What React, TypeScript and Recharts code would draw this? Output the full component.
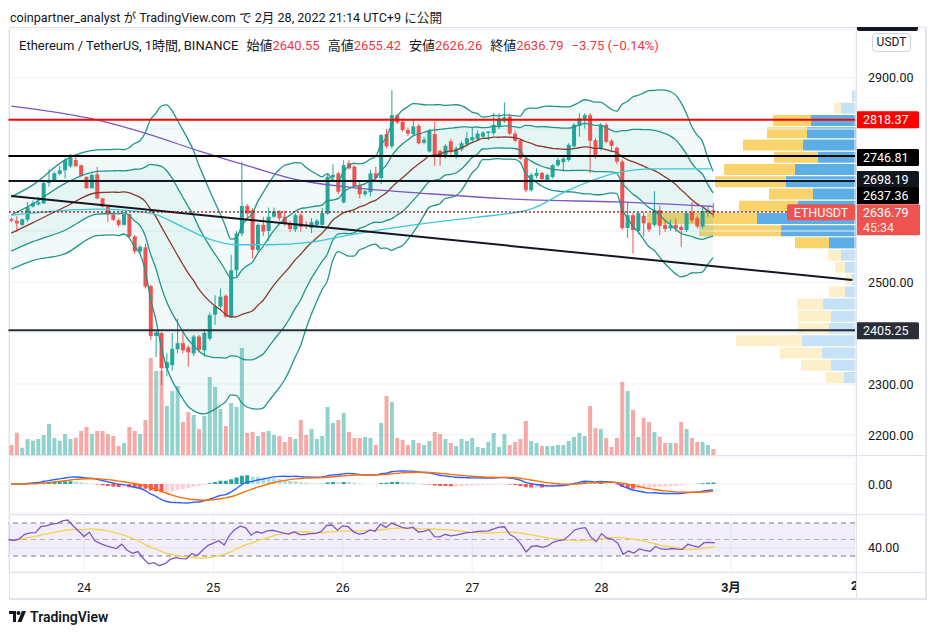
import React from "react";
import {
  ComposedChart,
  BarChart,
  Bar,
  Line,
  Area,
  XAxis,
  YAxis,
  CartesianGrid,
  ReferenceLine,
  ReferenceArea,
  Cell,
} from "recharts";

const FONT = "Roboto, 'Noto Sans CJK JP', sans-serif";
const UP = "#26a69a";
const DOWN = "#ef5350";
const GRID = "#eef1f6";
const BORDER = "#e0e3eb";
const INK = "#131722";

// hourly candles 23 Feb 11:00 .. 28 Feb 21:00 : open, high, low, close
const candles: number[][] = [
  [2623, 2626, 2618, 2620], [2620, 2629, 2598, 2615], [2612, 2624, 2610, 2623], [2622, 2657, 2618, 2647],
  [2648, 2660, 2646, 2655], [2652, 2667, 2650, 2656], [2654, 2697, 2653, 2694], [2694, 2721, 2687, 2700],
  [2699, 2716, 2697, 2713], [2712, 2728, 2709, 2719], [2719, 2743, 2703, 2739], [2727, 2751, 2724, 2747],
  [2739, 2751, 2726, 2727], [2729, 2730, 2707, 2708], [2706, 2707, 2683, 2684], [2684, 2713, 2683, 2710],
  [2711, 2726, 2662, 2664], [2664, 2665, 2646, 2648], [2647, 2650, 2618, 2633], [2632, 2634, 2620, 2622],
  [2621, 2625, 2608, 2612], [2612, 2634, 2611, 2633], [2633, 2634, 2587, 2589], [2589, 2592, 2555, 2560],
  [2560, 2572, 2556, 2569], [2568, 2575, 2487, 2491], [2492, 2494, 2386, 2394], [2394, 2404, 2353, 2401],
  [2400, 2402, 2298, 2331], [2331, 2360, 2315, 2343], [2337, 2400, 2326, 2369], [2368, 2428, 2360, 2380],
  [2380, 2406, 2360, 2366], [2372, 2376, 2334, 2362], [2360, 2396, 2355, 2393], [2393, 2396, 2362, 2367],
  [2366, 2407, 2354, 2400], [2389, 2440, 2385, 2435], [2436, 2474, 2416, 2452], [2452, 2487, 2448, 2471],
  [2473, 2476, 2430, 2432], [2432, 2553, 2430, 2523], [2523, 2600, 2510, 2595], [2595, 2736, 2590, 2649],
  [2649, 2653, 2622, 2634], [2641, 2645, 2546, 2563], [2563, 2615, 2558, 2612], [2612, 2628, 2590, 2599],
  [2600, 2646, 2580, 2628], [2628, 2646, 2626, 2638], [2638, 2641, 2620, 2625], [2628, 2640, 2610, 2614],
  [2614, 2620, 2598, 2604], [2603, 2635, 2598, 2631], [2631, 2636, 2599, 2608], [2612, 2619, 2604, 2609],
  [2606, 2625, 2596, 2617], [2612, 2624, 2606, 2620], [2612, 2645, 2610, 2635], [2634, 2713, 2632, 2706],
  [2705, 2731, 2700, 2710], [2713, 2716, 2672, 2677], [2656, 2739, 2654, 2729], [2733, 2739, 2720, 2723],
  [2726, 2729, 2685, 2688], [2690, 2697, 2664, 2672], [2672, 2681, 2668, 2678], [2676, 2720, 2668, 2713],
  [2713, 2726, 2700, 2704], [2704, 2790, 2692, 2788], [2790, 2800, 2762, 2766], [2766, 2876, 2761, 2827],
  [2827, 2830, 2810, 2813], [2814, 2820, 2794, 2798], [2798, 2803, 2786, 2791], [2790, 2819, 2787, 2805],
  [2806, 2810, 2770, 2772], [2773, 2785, 2770, 2779], [2756, 2800, 2754, 2796], [2790, 2814, 2728, 2746],
  [2757, 2760, 2728, 2745], [2746, 2770, 2742, 2767], [2776, 2780, 2750, 2756], [2745, 2766, 2742, 2762],
  [2760, 2776, 2756, 2772], [2770, 2795, 2766, 2782], [2778, 2804, 2775, 2784], [2780, 2797, 2778, 2791],
  [2785, 2796, 2783, 2793], [2792, 2796, 2778, 2795], [2792, 2831, 2788, 2808], [2805, 2831, 2800, 2821],
  [2815, 2852, 2812, 2823], [2824, 2830, 2788, 2791], [2791, 2797, 2774, 2777], [2778, 2780, 2740, 2742],
  [2742, 2745, 2676, 2680], [2680, 2714, 2677, 2710], [2708, 2723, 2703, 2714], [2714, 2716, 2700, 2702],
  [2698, 2713, 2696, 2710], [2706, 2731, 2703, 2729], [2729, 2744, 2726, 2739], [2735, 2748, 2718, 2742],
  [2739, 2772, 2736, 2769], [2766, 2812, 2763, 2808], [2806, 2831, 2785, 2821], [2818, 2831, 2801, 2827],
  [2827, 2831, 2713, 2777], [2778, 2782, 2742, 2747], [2762, 2812, 2758, 2808], [2808, 2812, 2772, 2775],
  [2777, 2780, 2755, 2767], [2763, 2766, 2731, 2736], [2736, 2740, 2602, 2606], [2606, 2657, 2586, 2631],
  [2631, 2635, 2556, 2602], [2600, 2638, 2595, 2635], [2630, 2637, 2589, 2615], [2615, 2618, 2598, 2603],
  [2612, 2678, 2608, 2641], [2641, 2650, 2592, 2610], [2612, 2622, 2598, 2604], [2605, 2622, 2600, 2611],
  [2612, 2625, 2598, 2605], [2608, 2612, 2569, 2602], [2602, 2640, 2598, 2635], [2637, 2657, 2616, 2621],
  [2625, 2630, 2605, 2609], [2609, 2645, 2605, 2639], [2639, 2648, 2628, 2640.55], [2640.55, 2655.42, 2626.26, 2636.79],
];

const volumes = [
  30, 67, 22, 48, 43, 48, 60, 93, 51, 43, 63, 48, 52, 72, 84, 63, 72, 72, 63, 57,
  27, 36, 84, 72, 63, 105, 291, 252, 252, 147, 192, 207, 99, 129, 120, 78, 117, 234, 204, 138,
  87, 156, 144, 321, 66, 69, 57, 69, 72, 60, 57, 39, 54, 48, 105, 60, 78, 48, 57, 144,
  96, 105, 126, 69, 51, 51, 54, 51, 30, 96, 177, 159, 51, 45, 30, 45, 36, 30, 42, 69,
  63, 48, 36, 27, 48, 42, 51, 24, 21, 39, 66, 24, 63, 30, 39, 48, 102, 42, 36, 27,
  27, 27, 30, 30, 42, 54, 66, 57, 147, 81, 78, 51, 24, 51, 219, 192, 135, 54, 111, 99,
  69, 55, 36, 36, 36, 99, 78, 51, 39, 39, 30, 18,
];

// moving averages: [candle index, price]
const purpleMa = [[0, 2845], [16, 2818], [25, 2792], [35, 2757], [45, 2725], [54, 2699], [63, 2686], [78, 2673], [97, 2661], [113, 2657], [131, 2648]];
const cyanMa = [[0, 2631], [16, 2643], [26, 2635], [32, 2608], [37, 2584], [42, 2573], [48, 2573], [56, 2578], [63, 2592], [78, 2616], [87, 2627], [97, 2643], [104, 2680], [113, 2714], [120, 2722], [131, 2722]];

// Bollinger basis / 2σ width before 20 closes are available
const bbEarlyIdx = [0, 4, 10, 16];
const bbEarlyMid = [2596, 2616, 2647, 2675];
const bbEarlyWidth = [71, 74, 92, 84];

const dayTicks = [14, 38, 62, 86, 110, 134];
const dayLabels = ["24", "25", "26", "27", "28", "3月"];
const priceTicks = [2200, 2300, 2400, 2500, 2600, 2700, 2800, 2900];
const priceLabelShown = [2200, 2300, 2500, 2900];

const levels = [
  { price: 2818.37, color: "#ff0000", width: 2, dash: undefined as string | undefined, shift: 0 },
  { price: 2746.81, color: "#000000", width: 2, dash: undefined, shift: 1.5 },
  { price: 2698.19, color: INK, width: 2, dash: undefined, shift: -1.5 },
  { price: 2637.36, color: "#000000", width: 1, dash: "2 2", shift: -16.5 },
  { price: 2405.25, color: "#2a2e39", width: 2, dash: undefined, shift: 0.5 },
];
const lastPrice = 2636.79;
const trendLine = [{ x: 0, y: 2668.4 }, { x: 157, y: 2503.9 }];

// visible-range volume profile, rows from the top
const vpTopPrice = 2876.5;
const vpRowStep = 24.0;
const vpUp = [4, 15, 45, 49, 53, 38, 61, 70, 43, 58, 99, 75, 27, 15, 11, 4, 11, 33, 25, 27, 54, 34, 25, 12];
const vpDown = [0, 7, 38, 40, 60, 44, 71, 71, 44, 59, 110, 82, 34, 13, 10, 6, 16, 26, 33, 31, 66, 42, 30, 18];
const vpValueArea = [2, 12];

const SLOTS = 158;
const PRICE_DOMAIN = [2160.8, 2994.1];
const MAIN_TOP = 27;
const MAIN_H = 428;
const MAIN_MARGIN_TOP = 3;
const RSI_SEED = 8;

const closes = candles.map((c) => c[3]);

const bb = closes.map((_, i) => {
  if (i >= 19) {
    const win = closes.slice(i - 19, i + 1);
    const mean = win.reduce((a, b) => a + b, 0) / 20;
    const sd = Math.sqrt(win.reduce((a, b) => a + (b - mean) ** 2, 0) / 20);
    return { mid: mean, w: 2 * sd };
  }
  const k = bbEarlyIdx.indexOf(i);
  return k >= 0 ? { mid: bbEarlyMid[k], w: bbEarlyWidth[k] } : null;
});

const ema = (src: number[], n: number) => {
  const a = 2 / (n + 1);
  const out: number[] = [];
  src.forEach((v, i) => out.push(i === 0 ? v : out[i - 1] + a * (v - out[i - 1])));
  return out;
};
const ema12 = ema(closes, 12);
const ema26 = ema(closes, 26);
const macdLine = ema12.map((v, i) => v - ema26[i]);
const signalLine = ema(macdLine, 9);
const hist = macdLine.map((v, i) => v - signalLine[i]);
const histColor = hist.map((h, i) => {
  const prev = i > 0 ? hist[i - 1] : 0;
  if (h >= 0) return h >= prev ? "#26a69a" : "#b2dfdb";
  return h <= prev ? "#ff5252" : "#ffcdd2";
});

const rsi: number[] = [];
{
  let ag = RSI_SEED;
  let al = RSI_SEED;
  closes.forEach((c, i) => {
    if (i > 0) {
      const ch = c - closes[i - 1];
      ag = (ag * 13 + Math.max(ch, 0)) / 14;
      al = (al * 13 + Math.max(-ch, 0)) / 14;
    }
    rsi.push(100 - 100 / (1 + ag / al));
  });
}
const rsiMa = rsi.map((_, i) => {
  const s = rsi.slice(Math.max(0, i - 13), i + 1);
  return s.reduce((a, b) => a + b, 0) / s.length;
});

const rows: any[] = Array.from({ length: SLOTS }, (_, i) => {
  const row: any = { i };
  const cd = candles[i];
  if (cd) {
    const [o, h, l, c] = cd;
    Object.assign(row, {
      o, h, l, c,
      range: [l, h],
      vol: volumes[i],
      macd: macdLine[i],
      signal: signalLine[i],
      hist: hist[i],
      rsi: rsi[i],
      rsiMa: rsiMa[i],
    });
    const b = bb[i];
    if (b) {
      row.mid = b.mid;
      row.ou = b.mid + b.w;
      row.ol = b.mid - b.w;
      row.iu = b.mid + b.w / 2;
      row.il = b.mid - b.w / 2;
      row.outer = [row.ol, row.ou];
      row.inner = [row.il, row.iu];
    }
  }
  return row;
});
purpleMa.forEach(([i, v]) => (rows[i].ma1 = v));
cyanMa.forEach(([i, v]) => (rows[i].ma2 = v));

const macdScale = -Math.min(...macdLine) / 19;
const macdDomain = [-29 * macdScale, 27 * macdScale];

const vpRows = vpUp.map((u, k) => ({ k, up: u, down: vpDown[k], va: k >= vpValueArea[0] && k <= vpValueArea[1] }));
const priceToY = (p: number) =>
  MAIN_TOP + MAIN_MARGIN_TOP + ((PRICE_DOMAIN[1] - p) / (PRICE_DOMAIN[1] - PRICE_DOMAIN[0])) * (MAIN_H - MAIN_MARGIN_TOP);
const vpTopY = priceToY(vpTopPrice);
const vpBottomY = priceToY(vpTopPrice - vpRowStep * vpUp.length);

const CandleShape = (props: any) => {
  const { x, y, width, height, payload } = props;
  if (!payload || payload.o == null) return null;
  const { o, h, l, c } = payload;
  const color = c >= o ? UP : DOWN;
  const top = Math.min(y, y + height);
  const hh = Math.abs(height);
  const k = h - l > 0 ? hh / (h - l) : 0;
  const bodyTop = top + (h - Math.max(o, c)) * k;
  const bodyH = Math.max(1, Math.abs(o - c) * k);
  const cx = x + width / 2;
  return (
    <g>
      <line x1={cx} x2={cx} y1={top} y2={top + hh} stroke={color} strokeWidth={1} />
      <rect x={x} y={bodyTop} width={width} height={bodyH} fill={color} />
    </g>
  );
};

const PriceTag = (props: any) => {
  const { viewBox, text, bg, shift = 0 } = props;
  if (!viewBox) return null;
  const x = viewBox.x + viewBox.width + 1;
  const y = viewBox.y + shift;
  return (
    <g>
      <rect x={x} y={y - 8.5} width={63} height={17} fill={bg} rx={1.5} />
      <text x={x + 7} y={y + 4.5} fill="#ffffff" fontSize={12.5} fontFamily={FONT}>
        {text}
      </text>
    </g>
  );
};

const LastTag = (props: any) => {
  const { viewBox } = props;
  if (!viewBox) return null;
  const x = viewBox.x + viewBox.width + 1;
  const y = viewBox.y;
  return (
    <g fontFamily={FONT} fontSize={12.5}>
      <rect x={x - 69} y={y - 8} width={68} height={16} fill={DOWN} rx={1.5} />
      <text x={x - 35} y={y + 4.5} fill="#ffffff" textAnchor="middle">ETHUSDT</text>
      <rect x={x} y={y - 8} width={64} height={31} fill={DOWN} rx={1.5} />
      <text x={x + 7} y={y + 4.5} fill="#ffffff">{lastPrice.toFixed(2)}</text>
      <text x={x + 7} y={y + 19.5} fill="#ffffff" fillOpacity={0.9}>45:34</text>
    </g>
  );
};

const PriceTick = (props: any) => {
  const { x, y, payload } = props;
  if (!priceLabelShown.includes(payload.value)) return null;
  return (
    <text x={x + 11} y={y + 4.5} fontSize={12.5} fill={INK} fontFamily={FONT}>
      {Number(payload.value).toFixed(2)}
    </text>
  );
};

const SideTick = (props: any) => {
  const { x, y, payload } = props;
  return (
    <text x={x + 11} y={y + 4.5} fontSize={12.5} fill={INK} fontFamily={FONT}>
      {Number(payload.value).toFixed(2)}
    </text>
  );
};

const TimeTick = (props: any) => {
  const { x, y, payload } = props;
  const label = dayLabels[dayTicks.indexOf(payload.value)];
  return (
    <text x={x} y={y + 18} textAnchor="middle" fontSize={12.5} fill={INK} fontFamily={FONT} fontWeight={label === "3月" ? 700 : 400}>
      {label}
    </text>
  );
};

const bandLine = (key: string) => (
  <Line
    key={key}
    yAxisId="p"
    dataKey={key}
    type="monotone"
    stroke="#22958b"
    strokeWidth={1.3}
    dot={false}
    connectNulls
    isAnimationActive={false}
  />
);

export default function App() {
  return (
    <div style={{ position: "relative", width: 936, height: 635, background: "#ffffff", fontFamily: FONT, color: INK, overflow: "hidden" }}>
      <style>{"body{margin:0}"}</style>

      <div style={{ position: "absolute", left: 10, top: 7, fontSize: 12.6, whiteSpace: "nowrap" }}>
        coinpartner_analyst が TradingView.com で 2月 28, 2022 21:14 UTC+9 に公開
      </div>

      {/* chart frame */}
      <div style={{ position: "absolute", left: 9, top: 27, width: 915, height: 570, borderTop: `1px solid ${BORDER}`, borderLeft: `1px solid ${BORDER}`, borderRight: `2px solid ${BORDER}`, borderBottom: `2px solid ${BORDER}` }} />

      {/* volume profile (drawn under the price chart) */}
      <div style={{ position: "absolute", left: 635, top: vpTopY }}>
        <BarChart layout="vertical" width={221} height={vpBottomY - vpTopY} data={vpRows} margin={{ top: 0, right: 0, bottom: 0, left: 0 }} barCategoryGap="4%">
          <XAxis type="number" domain={[0, 221]} reversed hide />
          <YAxis type="category" dataKey="k" hide />
          <Bar dataKey="up" stackId="v" isAnimationActive={false}>
            {vpRows.map((r) => (
              <Cell key={r.k} fill={r.va ? "#5eaee6" : "#c6e2f6"} />
            ))}
          </Bar>
          <Bar dataKey="down" stackId="v" isAnimationActive={false}>
            {vpRows.map((r) => (
              <Cell key={r.k} fill={r.va ? "#f9d46c" : "#fdefca"} />
            ))}
          </Bar>
        </BarChart>
      </div>

      {/* price panel */}
      <div style={{ position: "absolute", left: 0, top: MAIN_TOP }}>
        <ComposedChart width={926} height={MAIN_H} data={rows} margin={{ top: MAIN_MARGIN_TOP, right: 0, bottom: 0, left: 8.5 }}>
          <CartesianGrid yAxisId="p" stroke={GRID} ticks={priceTicks as any} />
          <XAxis dataKey="i" type="category" ticks={dayTicks} interval={0} tick={false} axisLine={false} tickLine={false} height={0} />
          <XAxis xAxisId="v" dataKey="i" type="category" hide />
          <YAxis
            yAxisId="p"
            orientation="right"
            width={71}
            type="number"
            domain={PRICE_DOMAIN}
            ticks={priceTicks}
            allowDataOverflow
            axisLine={false}
            tickLine={false}
            tickSize={0}
            tick={<PriceTick />}
          />
          <YAxis yAxisId="vol" hide domain={[0, 1275]} allowDataOverflow />

          <Bar xAxisId="v" yAxisId="vol" dataKey="vol" barSize={4} isAnimationActive={false}>
            {rows.map((r) => (
              <Cell key={r.i} fill={r.c >= r.o ? UP : DOWN} fillOpacity={0.5} />
            ))}
          </Bar>

          <Area yAxisId="p" dataKey="outer" type="monotone" stroke="none" fill={UP} fillOpacity={0.06} connectNulls isAnimationActive={false} />
          <Area yAxisId="p" dataKey="inner" type="monotone" stroke="none" fill={UP} fillOpacity={0.06} connectNulls isAnimationActive={false} />
          {bandLine("ou")}
          {bandLine("ol")}
          {bandLine("iu")}
          {bandLine("il")}
          <Line yAxisId="p" dataKey="mid" type="monotone" stroke="#8a3a2e" strokeWidth={1.3} dot={false} connectNulls isAnimationActive={false} />
          <Line yAxisId="p" dataKey="ma1" type="monotone" stroke="#7e57c2" strokeWidth={1.3} dot={false} connectNulls isAnimationActive={false} />
          <Line yAxisId="p" dataKey="ma2" type="monotone" stroke="#3fc6dc" strokeWidth={1.3} dot={false} connectNulls isAnimationActive={false} />

          <Bar yAxisId="p" dataKey="range" barSize={4} shape={<CandleShape />} isAnimationActive={false} />

          <ReferenceLine yAxisId="p" segment={trendLine} stroke="#131722" strokeWidth={2} />
          {levels.map((lv) => (
            <ReferenceLine
              key={lv.price}
              yAxisId="p"
              y={lv.price}
              stroke={lv.color}
              strokeWidth={lv.width}
              strokeDasharray={lv.dash}
              label={<PriceTag text={lv.price.toFixed(2)} bg={lv.color} shift={lv.shift} />}
            />
          ))}
          <ReferenceLine yAxisId="p" y={lastPrice} stroke={DOWN} strokeWidth={1} strokeDasharray="1 3" label={<LastTag />} />
        </ComposedChart>
      </div>

      {/* MACD panel */}
      <div style={{ position: "absolute", left: 0, top: 455 }}>
        <ComposedChart width={926} height={59} data={rows} margin={{ top: 2, right: 0, bottom: 1, left: 8.5 }}>
          <CartesianGrid stroke={GRID} />
          <XAxis dataKey="i" type="category" ticks={dayTicks} interval={0} tick={false} axisLine={false} tickLine={false} height={0} />
          <YAxis orientation="right" width={71} domain={macdDomain} ticks={[0]} allowDataOverflow axisLine={false} tickLine={false} tickSize={0} tick={<SideTick />} />
          <Bar dataKey="hist" barSize={4} isAnimationActive={false}>
            {rows.map((r) => (
              <Cell key={r.i} fill={r.hist != null ? histColor[r.i] : "none"} />
            ))}
          </Bar>
          <Line dataKey="macd" type="monotone" stroke="#2962ff" strokeWidth={1.4} dot={false} isAnimationActive={false} />
          <Line dataKey="signal" type="monotone" stroke="#ff6d00" strokeWidth={1.4} dot={false} isAnimationActive={false} />
        </ComposedChart>
      </div>

      {/* RSI panel + time axis */}
      <div style={{ position: "absolute", left: 0, top: 514 }}>
        <ComposedChart width={926} height={86} data={rows} margin={{ top: 1, right: 0, bottom: 0, left: 8.5 }}>
          <CartesianGrid stroke={GRID} />
          <XAxis dataKey="i" type="category" ticks={dayTicks} interval={0} axisLine={false} tickLine={false} tickSize={0} height={28} tick={<TimeTick />} />
          <YAxis orientation="right" width={71} domain={[10.6, 79.7]} ticks={[40]} allowDataOverflow axisLine={false} tickLine={false} tickSize={0} tick={<SideTick />} />
          <ReferenceArea y1={30} y2={70} fill="#7e57c2" fillOpacity={0.1} stroke="none" />
          <ReferenceLine y={70} stroke="#787b86" strokeDasharray="5 4" />
          <ReferenceLine y={50} stroke="#b2b5be" strokeDasharray="5 4" />
          <ReferenceLine y={30} stroke="#787b86" strokeDasharray="5 4" />
          <Line dataKey="rsiMa" type="monotone" stroke="#f2d34c" strokeWidth={1.3} dot={false} isAnimationActive={false} />
          <Line dataKey="rsi" type="linear" stroke="#7e57c2" strokeWidth={1.3} dot={false} isAnimationActive={false} />
        </ComposedChart>
      </div>

      {/* panel separators */}
      <div style={{ position: "absolute", left: 9, top: 455, width: 917, height: 1, background: BORDER }} />
      <div style={{ position: "absolute", left: 9, top: 514, width: 917, height: 1, background: BORDER }} />
      <div style={{ position: "absolute", left: 9, top: 572, width: 917, height: 1, background: BORDER }} />
      <div style={{ position: "absolute", left: 856, top: 27, width: 1, height: 572, background: BORDER }} />

      {/* legend */}
      <div style={{ position: "absolute", left: 19, top: 35, fontSize: 13, whiteSpace: "nowrap" }}>
        <span>Ethereum / TetherUS, 1時間, BINANCE</span>
        <span style={{ marginLeft: 8 }}>始値</span><span style={{ color: "#f23645" }}>2640.55</span>
        <span style={{ marginLeft: 8 }}>高値</span><span style={{ color: "#f23645" }}>2655.42</span>
        <span style={{ marginLeft: 8 }}>安値</span><span style={{ color: "#f23645" }}>2626.26</span>
        <span style={{ marginLeft: 8 }}>終値</span><span style={{ color: "#f23645" }}>2636.79</span>
        <span style={{ marginLeft: 8, color: "#f23645" }}>−3.75 (−0.14%)</span>
      </div>

      {/* top of price scale */}
      <div style={{ position: "absolute", left: 857, top: 27, width: 61, height: 4, background: INK, borderRadius: "0 0 2px 2px" }} />
      <div style={{ position: "absolute", left: 872, top: 33, width: 37, height: 17, border: "1px solid #d1d4dc", borderRadius: 4, fontSize: 12, lineHeight: "17px", textAlign: "center" }}>
        USDT
      </div>

      {/* next-day label, half hidden by the price scale as in the original */}
      <div style={{ position: "absolute", left: 851, top: 578, width: 5, height: 18, overflow: "hidden", fontSize: 12.5, fontWeight: 700 }}>2</div>

      {/* TradingView mark */}
      <svg style={{ position: "absolute", left: 9, top: 611 }} width={18} height={12} viewBox="0 0 18 12">
        <path d="M0 0h7v11H4V3H0z" fill={INK} />
        <circle cx={9.5} cy={2} r={2} fill={INK} />
        <path d="M13 0h4l-4.5 11H8.5z" fill={INK} />
      </svg>
      <div style={{ position: "absolute", left: 30, top: 609, fontSize: 14, fontWeight: 600 }}>TradingView</div>
    </div>
  );
}
